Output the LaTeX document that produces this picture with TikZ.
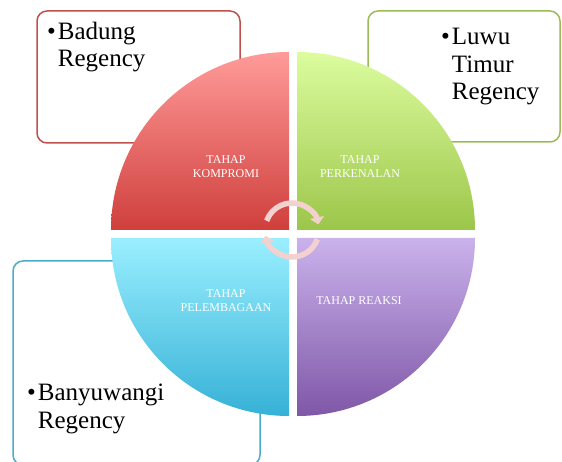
\documentclass[tikz,border=0pt]{standalone}
\usepackage{fontspec}
\setmainfont{Liberation Serif}
\usetikzlibrary{arrows.meta}
\definecolor{redline}{HTML}{C0504D}
\definecolor{greenline}{HTML}{9BBB59}
\definecolor{blueline}{HTML}{4BACC6}
\definecolor{redtop}{HTML}{FF9B99}
\definecolor{redbot}{HTML}{CF3F3C}
\definecolor{greentop}{HTML}{DCFC9E}
\definecolor{greenbot}{HTML}{9CC64A}
\definecolor{bluetop}{HTML}{9AEFFF}
\definecolor{bluebot}{HTML}{36B1D6}
\definecolor{purpletop}{HTML}{CAB2EC}
\definecolor{purplebot}{HTML}{7F57A7}
\definecolor{cyclepink}{HTML}{F3D1CF}
\newcommand{\bul}{•\kern2pt}
\newcommand{\nobul}{\phantom{•}\kern2pt}
\begin{document}
\begin{tikzpicture}[x=1pt, y=1pt,
    listbox/.style={rounded corners=10pt, line width=1.5pt, fill=white},
    listtext/.style={anchor=base west, align=left, inner sep=0pt,
        font=\fontsize{25}{27.5}\selectfont},
    stagetext/.style={text=white, align=center, inner sep=0pt,
        font=\fontsize{12}{14}\selectfont},
    cyclearrow/.style={cyclepink, line width=5.5pt,
        -{Triangle[width=14pt, length=7pt]}}]
\clip (0,0) rectangle (562,461);
\useasboundingbox (0,0) rectangle (562,461);

% boxes behind the circle
\draw[listbox, draw=redline] (37,318) rectangle (240,450);
\draw[listbox, draw=greenline] (368,319) rectangle (560,450);
\draw[listbox, draw=blueline] (13,-4) rectangle (260,200);

% four quarters
\shade[top color=redtop, bottom color=redbot]
    (289,231) -- (111,231) arc[start angle=180, end angle=90, radius=178] -- cycle;
\shade[top color=greentop, bottom color=greenbot]
    (297,231) -- (297,409) arc[start angle=90, end angle=0, radius=178] -- cycle;
\shade[top color=bluetop, bottom color=bluebot]
    (289,223) -- (111,223) arc[start angle=180, end angle=270, radius=178] -- cycle;
\shade[top color=purpletop, bottom color=purplebot]
    (297,223) -- (475,223) arc[start angle=0, end angle=-90, radius=178] -- cycle;

\node[stagetext] (kompromi) at (226,294) {TAHAP\\KOMPROMI};
\node[stagetext] (perkenalan) at (360,294) {TAHAP\\PERKENALAN};
\node[stagetext] (pelembagaan) at (226,160) {TAHAP\\PELEMBAGAAN};
\node[stagetext] (reaksi) at (359,160) {TAHAP REAKSI};

% cycle arrows
\coordinate (hub) at (292,231);
\draw[cyclearrow] (hub) ++(160:27) arc[start angle=160, end angle=12, radius=27];
\draw[cyclearrow] (hub) ++(-20:27) arc[start angle=-20, end angle=-168, radius=27];

% lists (base = last line)
\node[listtext] (badung) at (47,394) {\bul Badung\\\nobul Regency};
\node[listtext] (luwu) at (441,361) {\bul Luwu\\\nobul Timur\\\nobul Regency};
\node[listtext] (banyuwangi) at (27,33) {\bul Banyuwangi\\\nobul Regency};
\end{tikzpicture}
\end{document}
